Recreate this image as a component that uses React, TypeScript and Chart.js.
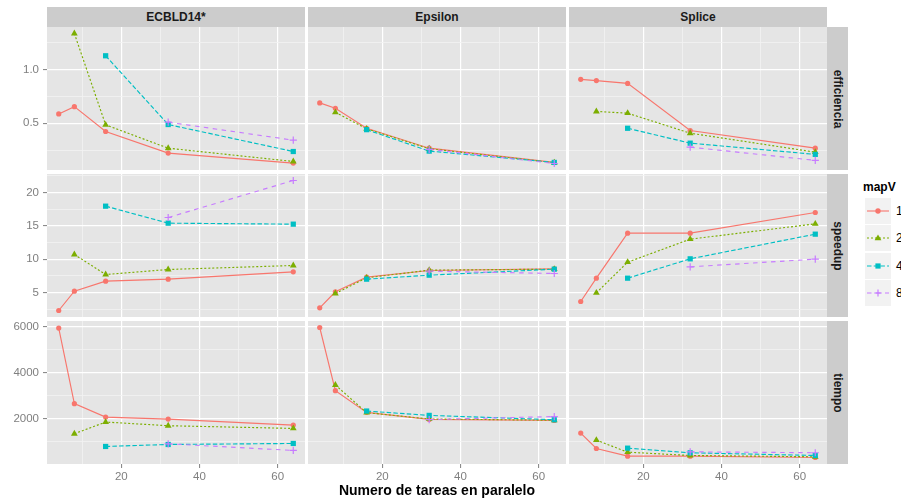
import React, { useEffect, useRef } from "react";
import { Chart, registerables } from "chart.js";
Chart.register(...registerables);

// ---------------- data ----------------
const tareas = [4, 8, 16, 32, 64];
const mapV = ["1", "2", "4", "8"];
const conjuntos = ["ECBLD14*", "Epsilon", "Splice"];
const medidas = ["efficiencia", "speedup", "tiempo"];

const xMajor = [20, 40, 60];
const xMinor = [10, 30, 50];

const eficMajor = [0.5, 1.0];
const eficLabels = ["0.5", "1.0"];
const eficMinor = [0.25, 0.75, 1.25];
const speedMajor = [5, 10, 15, 20];
const speedLabels = ["5", "10", "15", "20"];
const speedMinor = [2.5, 7.5, 12.5, 17.5, 22.5];
const tiempoMajor = [2000, 4000, 6000];
const tiempoLabels = ["2000", "4000", "6000"];
const tiempoMinor = [1000, 3000, 5000];

// ECBLD14*
const ecbldEfic1 = [0.587, 0.655, 0.423, 0.221, 0.128];
const ecbldEfic2 = [null, 1.338, 0.485, 0.267, 0.143];
const ecbldEfic4 = [null, null, 1.13, 0.488, 0.236];
const ecbldEfic8 = [null, null, null, 0.51, 0.342];
const ecbldSpeed1 = [2.3, 5.2, 6.7, 7.0, 8.1];
const ecbldSpeed2 = [null, 10.7, 7.7, 8.45, 9.05];
const ecbldSpeed4 = [null, null, 17.95, 15.4, 15.25];
const ecbldSpeed8 = [null, null, null, 16.25, 21.8];
const ecbldTiempo1 = [5943, 2644, 2057, 1970, 1707];
const ecbldTiempo2 = [null, 1330, 1840, 1680, 1562];
const ecbldTiempo4 = [null, null, 774, 861, 905];
const ecbldTiempo8 = [null, null, null, 890, 600];

// Epsilon
const epsEfic1 = [0.69, 0.64, 0.453, 0.267, 0.134];
const epsEfic2 = [null, 0.602, 0.448, 0.262, 0.131];
const epsEfic4 = [null, null, 0.44, 0.24, 0.134];
const epsEfic8 = [null, null, null, 0.256, 0.124];
const epsSpeed1 = [2.7, 5.1, 7.3, 8.3, 8.55];
const epsSpeed2 = [null, 4.85, 7.2, 8.35, 8.5];
const epsSpeed4 = [null, null, 7.0, 7.6, 8.5];
const epsSpeed8 = [null, null, null, 8.2, 7.85];
const epsTiempo1 = [5970, 3212, 2263, 1956, 1912];
const epsTiempo2 = [null, 3460, 2250, 1975, 1920];
const epsTiempo4 = [null, null, 2321, 2131, 1942];
const epsTiempo8 = [null, null, null, 1950, 2080];

// Splice
const spliceEfic1 = [0.91, 0.898, 0.872, 0.432, 0.267];
const spliceEfic2 = [null, 0.61, 0.594, 0.407, 0.23];
const spliceEfic4 = [null, null, 0.453, 0.314, 0.209];
const spliceEfic8 = [null, null, null, 0.277, 0.153];
const spliceSpeed1 = [3.65, 7.15, 13.9, 13.9, 17.0];
const spliceSpeed2 = [null, 4.95, 9.55, 13.0, 15.3];
const spliceSpeed4 = [null, null, 7.15, 10.05, 13.75];
const spliceSpeed8 = [null, null, null, 8.85, 10.0];
const spliceTiempo1 = [1357, 686, 350, 350, 292];
const spliceTiempo2 = [null, 1050, 525, 380, 323];
const spliceTiempo4 = [null, null, 700, 497, 380];
const spliceTiempo8 = [null, null, null, 540, 500];

// ---------------- tables built from the arrays ----------------
const series: (number | null)[][][][] = [
  [
    [ecbldEfic1, ecbldEfic2, ecbldEfic4, ecbldEfic8],
    [ecbldSpeed1, ecbldSpeed2, ecbldSpeed4, ecbldSpeed8],
    [ecbldTiempo1, ecbldTiempo2, ecbldTiempo4, ecbldTiempo8],
  ],
  [
    [epsEfic1, epsEfic2, epsEfic4, epsEfic8],
    [epsSpeed1, epsSpeed2, epsSpeed4, epsSpeed8],
    [epsTiempo1, epsTiempo2, epsTiempo4, epsTiempo8],
  ],
  [
    [spliceEfic1, spliceEfic2, spliceEfic4, spliceEfic8],
    [spliceSpeed1, spliceSpeed2, spliceSpeed4, spliceSpeed8],
    [spliceTiempo1, spliceTiempo2, spliceTiempo4, spliceTiempo8],
  ],
];
const yMajor = [eficMajor, speedMajor, tiempoMajor];
const yLabels = [eficLabels, speedLabels, tiempoLabels];
const yMinor = [eficMinor, speedMinor, tiempoMinor];

function rowRange(r: number) {
  const vals: number[] = [];
  series.forEach((col) => col[r].forEach((s) => s.forEach((v) => { if (v !== null) vals.push(v); })));
  const lo = Math.min(...vals), hi = Math.max(...vals);
  const e = (hi - lo) * 0.05;
  return [lo - e, hi + e];
}
const xLo = Math.min(...tareas), xHi = Math.max(...tareas);
const xExp = (xHi - xLo) * 0.05;

// ---------------- styles ----------------
const FONT = '"Liberation Sans", Arial, Helvetica, sans-serif';
const colores = ["#F8766D", "#7CAE00", "#00BFC4", "#C77CFF"];
const dashes = [[], [2, 2], [4.5, 2.2], [4.5, 4.5]];
const formas = ["circle", "triangle", "rect", "cross"];
const radios = [2.6, 3.9, 3.7, 3.6];
const PANEL_LEFT = [47, 308, 569];
const PANEL_W = 258;
const PANEL_TOP = [27, 174, 321];
const PANEL_H = 143;
const Y_AXIS_W = 47;
const X_AXIS_H = 22;

const fondo = {
  id: "fondo",
  beforeDraw(chart: any) {
    const { ctx, chartArea: a } = chart;
    ctx.save();
    ctx.fillStyle = "#E5E5E5";
    ctx.fillRect(a.left, a.top, a.right - a.left, a.bottom - a.top);
    ctx.restore();
  },
};

function zeroPad(s: any) {
  s.paddingTop = 0;
  s.paddingBottom = 0;
  s.paddingLeft = 0;
  s.paddingRight = 0;
}

function Panel({ c, r }: { c: number; r: number }) {
  const ref = useRef<HTMLCanvasElement>(null);
  const isLeft = c === 0;
  const isBottom = r === 2;
  const w = PANEL_W + (isLeft ? Y_AXIS_W : 0);
  const h = PANEL_H + (isBottom ? X_AXIS_H : 0);
  useEffect(() => {
    const [yLo, yHi] = rowRange(r);
    const datasets: any[] = [];
    mapV.forEach((m, k) => {
      const vals = series[c][r][k];
      const pts = tareas.map((x, i) => ({ x, y: vals[i] })).filter((p) => p.y !== null);
      datasets.push({
        label: m, data: pts, borderColor: colores[k], backgroundColor: colores[k],
        borderWidth: 1.15, borderDash: dashes[k], pointRadius: 0, showLine: true,
        tension: 0, fill: false, order: 10 + (3 - k),
      });
    });
    mapV.forEach((m, k) => {
      const vals = series[c][r][k];
      const pts = tareas.map((x, i) => ({ x, y: vals[i] })).filter((p) => p.y !== null);
      datasets.push({
        label: m + "p", data: pts, borderColor: colores[k], backgroundColor: colores[k],
        showLine: false, pointStyle: formas[k], pointRadius: radios[k],
        pointBorderWidth: k === 3 ? 1.2 : 0, pointBorderColor: colores[k],
        pointBackgroundColor: colores[k], order: 3 - k,
      });
    });
    const isMaj = (ctx: any, majors: number[]) => ctx.tick && majors.includes(ctx.tick.value);
    const chart = new Chart(ref.current as HTMLCanvasElement, {
      type: "line",
      data: { datasets },
      plugins: [fondo],
      options: {
        animation: false,
        responsive: false,
        events: [],
        layout: { padding: 0, autoPadding: false },
        plugins: { legend: { display: false }, tooltip: { enabled: false } },
        scales: {
          x: {
            type: "linear",
            min: xLo - xExp,
            max: xHi + xExp,
            afterBuildTicks: (s: any) => {
              s.ticks = [...xMajor, ...xMinor].sort((a, b) => a - b).map((v) => ({ value: v }));
            },
            ticks: {
              display: isBottom, autoSkip: false, maxRotation: 0, padding: 2,
              color: "#7F7F7F", font: { family: FONT, size: 11.5 },
              callback: (v: any) => (xMajor.includes(v) ? String(v) : ""),
            },
            grid: {
              color: (ctx: any) => (isMaj(ctx, xMajor) ? "#FFFFFF" : "#F2F2F2"),
              lineWidth: (ctx: any) => (isMaj(ctx, xMajor) ? 1.2 : 0.8),
              drawTicks: isBottom, tickLength: 4, tickWidth: 1,
              tickColor: (ctx: any) => (isMaj(ctx, xMajor) ? "#7F7F7F" : "rgba(0,0,0,0)"),
            },
            border: { display: false },
            afterFit: (s: any) => { s.height = isBottom ? X_AXIS_H : 0; zeroPad(s); },
          },
          y: {
            type: "linear",
            min: yLo,
            max: yHi,
            afterBuildTicks: (s: any) => {
              s.ticks = [...yMajor[r], ...yMinor[r]]
                .filter((v) => v >= yLo && v <= yHi)
                .sort((a, b) => a - b)
                .map((v) => ({ value: v }));
            },
            ticks: {
              display: isLeft, autoSkip: false, padding: 4,
              color: "#7F7F7F", font: { family: FONT, size: 11.5 },
              callback: (v: any) => {
                const i = yMajor[r].indexOf(v);
                return i >= 0 ? yLabels[r][i] : "";
              },
            },
            grid: {
              color: (ctx: any) => (isMaj(ctx, yMajor[r]) ? "#FFFFFF" : "#F2F2F2"),
              lineWidth: (ctx: any) => (isMaj(ctx, yMajor[r]) ? 1.2 : 0.8),
              drawTicks: isLeft, tickLength: 4, tickWidth: 1,
              tickColor: (ctx: any) => (isMaj(ctx, yMajor[r]) ? "#7F7F7F" : "rgba(0,0,0,0)"),
            },
            border: { display: false },
            afterFit: (s: any) => { s.width = isLeft ? Y_AXIS_W : 0; zeroPad(s); },
          },
        },
      } as any,
    });
    return () => chart.destroy();
  }, [c, r]);
  return (
    <canvas
      ref={ref}
      width={w}
      height={h}
      style={{
        position: "absolute",
        left: isLeft ? 0 : PANEL_LEFT[c],
        top: PANEL_TOP[r],
        width: w,
        height: h,
      }}
    />
  );
}

function LegendKey({ k }: { k: number }) {
  const col = colores[k];
  const dash = dashes[k].length ? dashes[k].join(",") : undefined;
  let marker: any = null;
  if (k === 0) marker = <circle cx={13} cy={13} r={2.7} fill={col} />;
  if (k === 1) marker = <polygon points="13,9.4 16.4,15.3 9.6,15.3" fill={col} />;
  if (k === 2) marker = <rect x={10.4} y={10.4} width={5.2} height={5.2} fill={col} />;
  if (k === 3)
    marker = (
      <g stroke={col} strokeWidth={1.2}>
        <line x1={9.4} y1={13} x2={16.6} y2={13} />
        <line x1={13} y1={9.4} x2={13} y2={16.6} />
      </g>
    );
  return (
    <svg width={26} height={26} style={{ position: "absolute", left: 0, top: 0 }}>
      <line x1={2} y1={13} x2={24} y2={13} stroke={col} strokeWidth={1.1} strokeDasharray={dash} />
      {marker}
    </svg>
  );
}

export default function App() {
  const panels: any[] = [];
  for (let r = 0; r < 3; r++) for (let c = 0; c < 3; c++) panels.push(<Panel key={`${c}-${r}`} c={c} r={r} />);
  return (
    <div
      style={{
        position: "fixed", left: 0, top: 0, width: 901, height: 503,
        background: "#FFFFFF", fontFamily: FONT, overflow: "hidden",
      }}
    >
      {panels}
      {conjuntos.map((t, c) => (
        <div
          key={t}
          style={{
            position: "absolute", left: PANEL_LEFT[c], top: 7, width: PANEL_W, height: 20,
            background: "#CCCCCC", color: "#1A1A1A", fontWeight: "bold", fontSize: 12,
            lineHeight: "20px", textAlign: "center",
          }}
        >
          {t}
        </div>
      ))}
      {medidas.map((t, r) => (
        <div
          key={t}
          style={{
            position: "absolute", left: PANEL_LEFT[2] + PANEL_W, top: PANEL_TOP[r], width: 21,
            height: PANEL_H, background: "#CCCCCC",
          }}
        >
          <div
            style={{
              position: "absolute", left: "50%", top: "50%", whiteSpace: "nowrap",
              transform: "translate(-50%, -50%) rotate(90deg)", color: "#1A1A1A",
              fontWeight: "bold", fontSize: 12, lineHeight: "14px",
            }}
          >
            {t}
          </div>
        </div>
      ))}
      <div
        style={{
          position: "absolute", left: PANEL_LEFT[0], width: PANEL_LEFT[2] + PANEL_W - PANEL_LEFT[0],
          top: 482, textAlign: "center", fontWeight: "bold", fontSize: 14, color: "#000000",
          lineHeight: "16px",
        }}
      >
        Numero de tareas en paralelo
      </div>
      <div
        style={{
          position: "absolute", left: 863, top: 180, fontWeight: "bold", fontSize: 12,
          color: "#000000", lineHeight: "14px",
        }}
      >
        mapV
      </div>
      {mapV.map((m, k) => (
        <div key={m}>
          <div
            style={{
              position: "absolute", left: 865, top: 198 + k * 27.3, width: 26, height: 26,
              background: "#F2F2F2",
            }}
          >
            <LegendKey k={k} />
          </div>
          <div
            style={{
              position: "absolute", left: 896, top: 198 + k * 27.3 + 6, fontSize: 12,
              lineHeight: "14px", color: "#000000",
            }}
          >
            {m}
          </div>
        </div>
      ))}
    </div>
  );
}
